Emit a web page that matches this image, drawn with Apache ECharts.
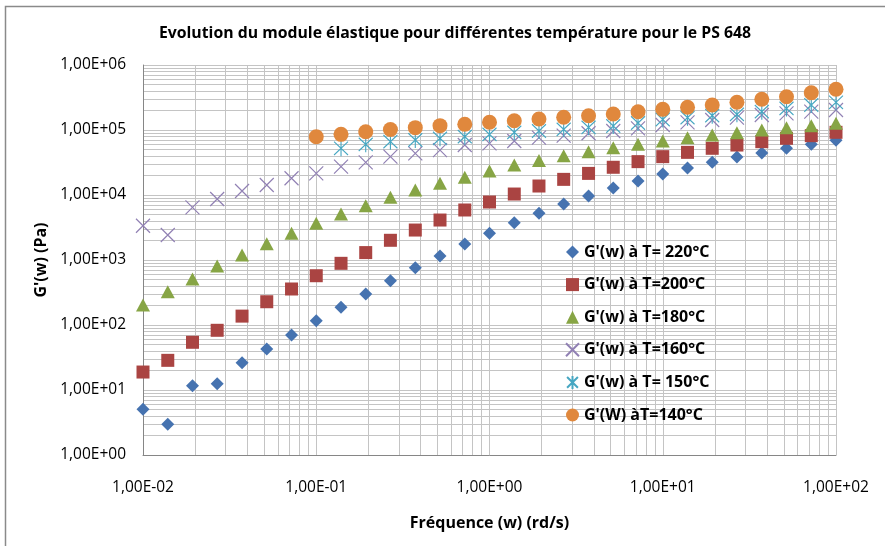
<!DOCTYPE html>
<html>
<head>
<meta charset="utf-8">
<title>Evolution du module élastique</title>
<script src="https://cdn.jsdelivr.net/npm/echarts@6/dist/echarts.min.js"></script>
<style>
  html, body { margin: 0; padding: 0; background: #ffffff; }
  #chart { width: 885px; height: 546px; }
</style>
</head>
<body>
<div id="chart"></div>
<script>
// Angular frequency (rd/s), 7 points per decade
const frequencies = [0.01, 0.0139, 0.0193, 0.0268, 0.0373, 0.0518, 0.072,
  0.1, 0.139, 0.193, 0.268, 0.373, 0.518, 0.72,
  1, 1.39, 1.93, 2.68, 3.73, 5.18, 7.2,
  10, 13.9, 19.3, 26.8, 37.3, 51.8, 72, 100];

// Storage modulus G'(w) in Pa for each temperature
const g220 = [5.05, 2.97, 11.6, 12.5, 26.3, 42.8, 70, 116, 187, 300, 480, 760, 1150, 1760,
  2570, 3750, 5220, 7270, 9650, 12800, 16400, 21000, 26000, 31800, 38400, 44300, 52300, 60100, 69400];
const g200 = [18.9, 28.6, 54.2, 82.9, 137, 228, 358, 573, 889, 1300, 2010, 2890, 4120, 5880,
  7800, 10350, 13750, 17400, 21500, 26700, 32600, 38900, 45300, 52300, 58700, 66100, 74500, 81800, 92100];
const g180 = [203, 326, 510, 809, 1194, 1783, 2573, 3670, 5100, 6840, 9200, 11930, 15100, 18700,
  23400, 28900, 34000, 40300, 46400, 53400, 60100, 67700, 76200, 83800, 90900, 100000, 108600, 116400, 126800];
const g160 = [3370, 2425, 6460, 8670, 11530, 14260, 18080, 21500, 27300, 31800, 38900, 43800, 49000, 58700,
  62400, 67700, 76200, 81800, 89000, 96600, 106100, 119400, 131300, 142500, 155000, 170000, 180600, 191300, 203000];
const g150 = [null, null, null, null, null, null, null, null, 52300, 60100, 66100, 70200, 74500, 78900,
  85800, 92000, 96600, 102400, 110000, 115300, 128000, 145000, 155000, 166000, 174000, 191300, 215000, 242500, 266800];
const g140 = [null, null, null, null, null, null, null, 78900, 85800, 94200, 102000, 108600, 116600, 122300,
  131300, 139000, 147600, 156700, 166000, 176000, 191300, 208000, 223500, 242500, 266800, 296500, 325000, 375000, 423000];

const seriesNames = [
  "G'(w) à T= 220°C",
  "G'(w) à T=200°C",
  "G'(w) à T=180°C",
  "G'(w) à T=160°C",
  "G'(w) à T= 150°C",
  "G'(W) àT=140°C"
];

// Axis tick labels, one per decade
const xTickLabels = ['1,00E-02', '1,00E-01', '1,00E+00', '1,00E+01', '1,00E+02'];
const yTickLabels = ['1,00E+00', '1,00E+01', '1,00E+02', '1,00E+03', '1,00E+04', '1,00E+05', '1,00E+06'];

const FONT = 'Open Sans';
const gridColor = '#c4c4c4';

function pairs(values) {
  const out = [];
  values.forEach(function (v, i) {
    if (v !== null) out.push([frequencies[i], v]);
  });
  return out;
}

// Minor grid values (2..9 times each power of ten) for a log axis
function minorValues(minExp, maxExp) {
  const out = [];
  for (let e = minExp; e < maxExp; e++) {
    for (let k = 2; k <= 9; k++) out.push(k * Math.pow(10, e));
  }
  return out;
}

const minorLines = minorValues(-2, 2).map(function (v) { return { xAxis: v }; })
  .concat(minorValues(0, 6).map(function (v) { return { yAxis: v }; }));

const crossPath = 'path://M0,0L10,10M10,0L0,10';
const starPath = 'path://M0,1L10,11M10,1L0,11M5,0L5,12';

const chart = echarts.init(document.getElementById('chart'), null, { renderer: 'canvas' });

chart.setOption({
  animation: false,
  backgroundColor: '#ffffff',
  textStyle: { fontFamily: FONT },
  title: {
    text: 'Evolution du module élastique pour différentes température pour le PS 648',
    left: 450,
    top: 20,
    textAlign: 'center',
    textStyle: { fontFamily: FONT, fontSize: 15.8, fontWeight: 'bold', color: '#000000' }
  },
  graphic: [{
    type: 'rect',
    silent: true,
    shape: { x: 5.5, y: 6.5, width: 920, height: 600 },
    style: { fill: 'none', stroke: '#8a8a8a', lineWidth: 1.5 }
  }],
  grid: { left: 143, right: 49, top: 65, bottom: 91, containLabel: false },
  legend: {
    orient: 'vertical',
    left: 565,
    top: 244,
    padding: 0,
    itemWidth: 13,
    itemHeight: 13,
    itemGap: 16.6,
    selectedMode: false,
    textStyle: { fontFamily: FONT, fontSize: 16, fontWeight: 'bold', color: '#000000' },
    data: seriesNames
  },
  xAxis: {
    type: 'log',
    logBase: 10,
    min: 0.01,
    max: 100,
    splitNumber: 4,
    name: 'Fréquence (w) (rd/s)',
    nameLocation: 'middle',
    nameGap: 60,
    nameTextStyle: { fontFamily: FONT, fontSize: 16, fontWeight: 'bold', color: '#000000' },
    axisLine: { show: true, lineStyle: { color: '#868686', width: 1 } },
    axisTick: { show: false },
    axisLabel: {
      margin: 25,
      fontFamily: FONT,
      fontSize: 15.5,
      color: '#000000',
      formatter: function (v) {
        const e = Math.round(Math.log10(v));
        return xTickLabels[e + 2];
      }
    },
    splitLine: { show: true, lineStyle: { color: gridColor, width: 1 } }
  },
  yAxis: {
    type: 'log',
    logBase: 10,
    min: 1,
    max: 1000000,
    splitNumber: 6,
    name: "G'(w) (Pa)",
    nameLocation: 'middle',
    nameGap: 85,
    nameRotate: 90,
    nameTextStyle: { fontFamily: FONT, fontSize: 16, fontWeight: 'bold', color: '#000000' },
    axisLine: { show: true, lineStyle: { color: '#868686', width: 1 } },
    axisTick: { show: false },
    axisLabel: {
      margin: 17,
      fontFamily: FONT,
      fontSize: 15.5,
      color: '#000000',
      formatter: function (v) {
        const e = Math.round(Math.log10(v));
        return yTickLabels[e];
      }
    },
    splitLine: { show: true, lineStyle: { color: gridColor, width: 1 } }
  },
  series: [
    {
      type: 'scatter',
      name: 'minor-grid',
      data: [],
      silent: true,
      z: 0,
      markLine: {
        silent: true,
        symbol: 'none',
        animation: false,
        z: 0,
        label: { show: false },
        emphasis: { disabled: true },
        lineStyle: { color: gridColor, width: 1, type: 'solid' },
        data: minorLines
      }
    },
    {
      type: 'scatter', name: seriesNames[0], data: pairs(g220),
      symbol: 'diamond', symbolSize: 13,
      itemStyle: { color: '#4673b0', opacity: 1 }
    },
    {
      type: 'scatter', name: seriesNames[1], data: pairs(g200),
      symbol: 'rect', symbolSize: 13,
      itemStyle: { color: '#aa4442', opacity: 1 }
    },
    {
      type: 'scatter', name: seriesNames[2], data: pairs(g180),
      symbol: 'triangle', symbolSize: [14, 13],
      itemStyle: { color: '#87a545', opacity: 1 }
    },
    {
      type: 'scatter', name: seriesNames[3], data: pairs(g160),
      symbol: crossPath, symbolSize: 14,
      itemStyle: { color: 'rgba(0,0,0,0)', borderColor: '#9181b4', borderWidth: 1.2, opacity: 1 }
    },
    {
      type: 'scatter', name: seriesNames[4], data: pairs(g150),
      symbol: starPath, symbolSize: [14, 16],
      itemStyle: { color: 'rgba(0,0,0,0)', borderColor: '#47a7c2', borderWidth: 1.2, opacity: 1 }
    },
    {
      type: 'scatter', name: seriesNames[5], data: pairs(g140),
      symbol: 'circle', symbolSize: 15,
      itemStyle: { color: '#e0883d', opacity: 1 }
    }
  ]
});
</script>
</body>
</html>
